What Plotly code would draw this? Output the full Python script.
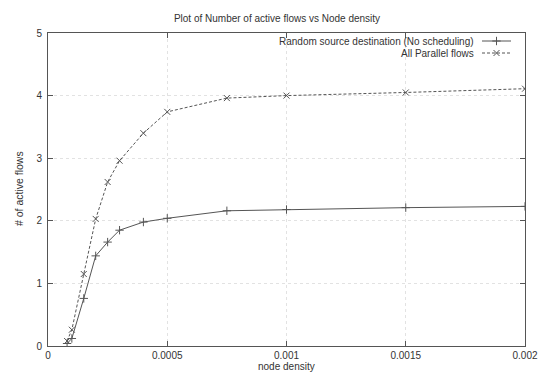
import plotly.graph_objects as go

# Node density values (x) and measured number of active flows
density = [0.00008, 0.0001, 0.00015, 0.0002, 0.00025, 0.0003, 0.0004,
           0.0005, 0.00075, 0.001, 0.0015, 0.002]
random_src = [0.04, 0.12, 0.76, 1.44, 1.66, 1.85, 1.98,
              2.04, 2.16, 2.18, 2.21, 2.23]
all_parallel = [0.08, 0.26, 1.15, 2.03, 2.62, 2.96, 3.40,
                3.74, 3.96, 4.00, 4.05, 4.11]

x_ticks = [0, 0.0005, 0.001, 0.0015, 0.002]
x_tick_text = ["0", "0.0005", "0.001", "0.0015", "0.002"]
y_ticks = [0, 1, 2, 3, 4, 5]

series_names = ["Random source destination (No scheduling)", "All Parallel flows"]

FONT = "Liberation Sans, Arial, sans-serif"
INK = "#333333"
LINE = "#555555"

W, H = 540, 378
ML, MR, MT, MB = 48, 15, 33, 32
PW, PH = W - ML - MR, H - MT - MB


def px_x(p):
    """pixel column -> paper fraction"""
    return (p - ML) / PW


def px_y(p):
    """pixel row (from top) -> paper fraction"""
    return (H - MB - p) / PH


fig = go.Figure()

fig.add_trace(go.Scatter(
    x=density, y=random_src, mode="lines+markers", name=series_names[0],
    line=dict(color=LINE, width=1),
    marker=dict(symbol="cross-thin", size=6, line=dict(color=LINE, width=1)),
    showlegend=False,
))
fig.add_trace(go.Scatter(
    x=density, y=all_parallel, mode="lines+markers", name=series_names[1],
    line=dict(color=LINE, width=1, dash="3px,2px"),
    marker=dict(symbol="x-thin", size=6, line=dict(color=LINE, width=1)),
    showlegend=False,
))

# Key in the upper right: label text right-aligned, line sample to its right
key_rows = [px_y(41), px_y(53)]
key_dash = ["solid", "3px,2px"]
key_sym = ["cross-thin", "x-thin"]
for name, yk, dash, sym in zip(series_names, key_rows, key_dash, key_sym):
    fig.add_trace(go.Scatter(
        x=[px_x(482), px_x(511)], y=[yk, yk], xaxis="x2", yaxis="y2",
        mode="lines", line=dict(color=LINE, width=1, dash=dash),
        showlegend=False, hoverinfo="skip",
    ))
    fig.add_trace(go.Scatter(
        x=[px_x(496.5)], y=[yk], xaxis="x2", yaxis="y2", mode="markers",
        marker=dict(symbol=sym, size=6, line=dict(color=LINE, width=1)),
        showlegend=False, hoverinfo="skip",
    ))
    fig.add_annotation(
        x=px_x(476), y=yk, xref="paper", yref="paper", text=name,
        showarrow=False, xanchor="right", yanchor="middle",
        font=dict(family=FONT, size=10, color=INK),
    )

# Axis titles
fig.add_annotation(
    x=px_x(286), y=px_y(366), xref="paper", yref="paper", text="node density",
    showarrow=False, xanchor="center", yanchor="middle",
    font=dict(family=FONT, size=10, color=INK),
)
fig.add_annotation(
    x=px_x(19), y=px_y(189), xref="paper", yref="paper",
    text="# of active flows", textangle=-90,
    showarrow=False, xanchor="center", yanchor="middle",
    font=dict(family=FONT, size=10.5, color=INK),
)

axis_common = dict(
    showline=True, linecolor=LINE, linewidth=1, mirror="ticks",
    ticks="inside", ticklen=5, tickcolor=LINE,
    showgrid=True, gridcolor="#e2e2e2", griddash="dot", gridwidth=1,
    zeroline=False, automargin=False,
    tickfont=dict(family=FONT, size=10, color=INK),
)

fig.update_layout(
    width=W, height=H,
    margin=dict(l=ML, r=MR, t=MT, b=MB, autoexpand=False),
    paper_bgcolor="white", plot_bgcolor="white",
    font=dict(family=FONT, size=10, color=INK),
    title=dict(text="Plot of Number of active flows vs Node density",
               x=px_x(277), xref="paper", y=1 - 18 / H, yanchor="middle",
               xanchor="center", font=dict(family=FONT, size=10, color=INK)),
    xaxis=dict(range=[0, 0.002], tickvals=x_ticks, ticktext=x_tick_text,
               ticklabelstandoff=0, **axis_common),
    yaxis=dict(range=[0, 5], tickvals=y_ticks, ticklabelstandoff=3,
               **axis_common),
    xaxis2=dict(overlaying="x", range=[0, 1], visible=False, fixedrange=True),
    yaxis2=dict(overlaying="y", range=[0, 1], visible=False, fixedrange=True),
)

fig.write_html("out.html")
